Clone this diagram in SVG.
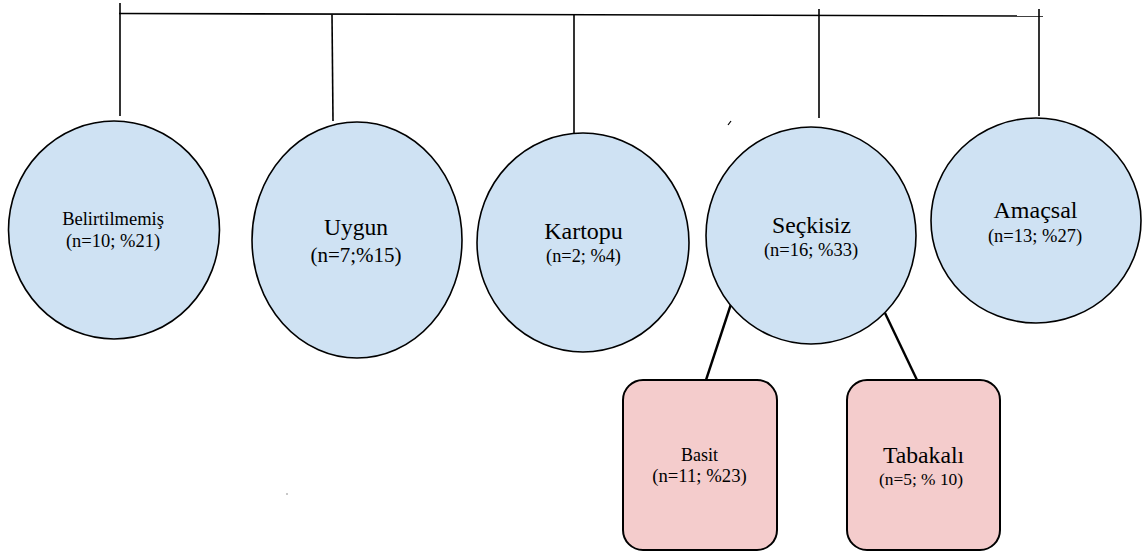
<svg xmlns="http://www.w3.org/2000/svg" width="1142" height="556" viewBox="0 0 1142 556">
<style>
.bub{fill:#cfe2f3;stroke:#000;stroke-width:1.6}
.box{fill:#f4cccc;stroke:#000;stroke-width:2}
.ln{stroke:#000;stroke-width:1.6;fill:none;stroke-linecap:butt}
.ln2{stroke:#000;stroke-width:2.4;fill:none}
.t{font-family:'Liberation Serif','Times New Roman',serif;fill:#000;text-anchor:middle}
</style>
<rect width="1142" height="556" fill="#fff"/>
<g id="connectors">
<line class="ln" x1="119" y1="13.5" x2="1043" y2="16"/>
<line class="ln" x1="120" y1="3" x2="120" y2="116"/>
<line class="ln" x1="332" y1="14.5" x2="333" y2="121"/>
<line class="ln" x1="574" y1="15" x2="574" y2="134"/>
<line class="ln" x1="819" y1="9" x2="819" y2="118"/>
<line class="ln" x1="1039" y1="9" x2="1039" y2="116"/>
<line class="ln2" x1="732" y1="301" x2="706" y2="380"/>
<line class="ln2" x1="885" y1="313" x2="917" y2="380"/>
</g>
<g id="belirtilmemis">
<ellipse class="bub" cx="114" cy="230" rx="105.5" ry="109"/>
<text class="t" x="113" y="225" font-size="18.5">Belirtilmemiş</text>
<text class="t" x="113" y="247" font-size="18.5">(n=10; %21)</text>
</g>
<g id="uygun">
<ellipse class="bub" cx="357" cy="240" rx="105" ry="118"/>
<text class="t" x="356" y="235" font-size="23.5">Uygun</text>
<text class="t" x="356" y="262" font-size="21">(n=7;%15)</text>
</g>
<g id="kartopu">
<ellipse class="bub" cx="583" cy="242.5" rx="106" ry="109.5"/>
<text class="t" x="583.5" y="239" font-size="24">Kartopu</text>
<text class="t" x="583.5" y="262" font-size="18.3">(n=2; %4)</text>
</g>
<g id="seckisiz">
<ellipse class="bub" cx="811" cy="235.5" rx="105" ry="108.5"/>
<text class="t" x="811.5" y="233" font-size="23.7">Seçkisiz</text>
<text class="t" x="811" y="256" font-size="18.5">(n=16; %33)</text>
</g>
<g id="amacsal">
<ellipse class="bub" cx="1036" cy="220.5" rx="105" ry="102.5"/>
<text class="t" x="1035.5" y="218" font-size="24">Amaçsal</text>
<text class="t" x="1035" y="242" font-size="18.5">(n=13; %27)</text>
</g>
<g id="basit">
<rect class="box" x="623" y="380" width="154" height="170" rx="20"/>
<text class="t" x="699.5" y="461" font-size="18">Basit</text>
<text class="t" x="699.5" y="482" font-size="18.7">(n=11; %23)</text>
</g>
<g id="tabakali">
<rect class="box" x="847" y="380" width="153" height="170" rx="20"/>
<text class="t" x="923.5" y="463" font-size="23.7">Tabakalı</text>
<text class="t" x="921" y="485" font-size="17.4">(n=5; % 10)</text>
</g>
<line x1="728" y1="125" x2="731" y2="121" stroke="#000" stroke-width="1.2"/>
<circle cx="287" cy="494" r="0.7" fill="#666"/>
</svg>
